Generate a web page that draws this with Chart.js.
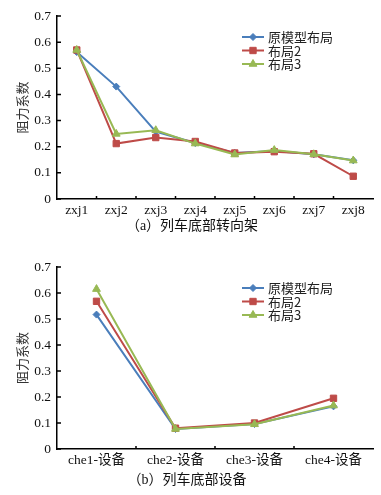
<!DOCTYPE html>
<html>
<head>
<meta charset="utf-8">
<script src="https://cdn.jsdelivr.net/npm/chart.js@4.4.1/dist/chart.umd.min.js"></script>
<style>
    html, body { margin: 0; padding: 0; background: #fff; }
    #wrap { position: relative; width: 381px; height: 495px; }
    .box { position: absolute; left: 0; width: 381px; }
    .caption {
        position: absolute; width: 260px; text-align: center;
        font: 14px "Liberation Serif", "Noto Sans CJK SC", serif; color: #111;
        line-height: 18px; white-space: nowrap;
    }
</style>
</head>
<body>
<div id="wrap">
    <div class="box" style="top:0;height:238px"><canvas id="bogieChart"></canvas></div>
    <div class="caption" style="left:62px;top:217px">（a）列车底部转向架</div>
    <div class="box" style="top:247px;height:245px"><canvas id="deviceChart"></canvas></div>
    <div class="caption" style="left:57px;top:471px">（b）列车底部设备</div>
</div>
<script>
// (a) bogies
const bogieLabels = ['zxj1', 'zxj2', 'zxj3', 'zxj4', 'zxj5', 'zxj6', 'zxj7', 'zxj8'];
const bogieOriginal = [0.562, 0.43, 0.258, 0.214, 0.176, 0.184, 0.171, 0.148];
const bogieLayout2 = [0.570, 0.212, 0.235, 0.220, 0.176, 0.181, 0.173, 0.087];
const bogieLayout3 = [0.570, 0.249, 0.263, 0.212, 0.170, 0.187, 0.171, 0.147];

// (b) underbody equipment
const deviceLabels = ['che1-设备', 'che2-设备', 'che3-设备', 'che4-设备'];
const deviceOriginal = [0.517, 0.077, 0.096, 0.164];
const deviceLayout2 = [0.568, 0.080, 0.100, 0.195];
const deviceLayout3 = [0.615, 0.077, 0.095, 0.167];

const seriesNames = ['原模型布局', '布局2', '布局3'];
const seriesColors = ['#4a7ebb', '#be4b48', '#98b954'];
const yTicks = [0, 0.1, 0.2, 0.3, 0.4, 0.5, 0.6, 0.7];

const latinFont = '"Liberation Serif", "Noto Sans CJK SC", serif';
const cjkFont = '"Noto Sans CJK SC", sans-serif';

// legend drawn inside the plot area, line + marker like the original figure
const insideLegend = {
    id: 'insideLegend',
    afterDatasetsDraw(chart) {
        const { ctx, chartArea } = chart;
        chart.data.datasets.forEach((ds, i) => {
            const y = chartArea.top + 21 + i * 13.5;
            const x0 = 242, x1 = 264;
            ctx.save();
            ctx.strokeStyle = ds.borderColor;
            ctx.lineWidth = 2;
            ctx.beginPath();
            ctx.moveTo(x0, y);
            ctx.lineTo(x1, y);
            ctx.stroke();
            ctx.fillStyle = ds.backgroundColor;
            ctx.lineWidth = 1;
            Chart.helpers.drawPoint(ctx, {
                pointStyle: ds.pointStyle, radius: ds.pointRadius, rotation: 0, borderWidth: 1
            }, (x0 + x1) / 2, y);
            ctx.fillStyle = '#222';
            ctx.font = '13px ' + cjkFont;
            ctx.textBaseline = 'middle';
            ctx.fillText(ds.label, 268, y + 0.5);
            ctx.restore();
        });
    }
};

// small tick marks pointing into the plot
const innerTicks = {
    id: 'innerTicks',
    afterDraw(chart) {
        const { ctx, chartArea } = chart;
        const xs = chart.scales.x, ys = chart.scales.y;
        ctx.save();
        ctx.strokeStyle = '#000';
        ctx.lineWidth = 1.5;
        ctx.beginPath();
        yTicks.forEach(v => {
            const y = ys.getPixelForValue(v);
            ctx.moveTo(chartArea.left, y);
            ctx.lineTo(chartArea.left + 4, y);
        });
        const n = chart.data.labels.length;
        for (let i = 1; i < n; i++) {
            const x = (xs.getPixelForValue(i - 1) + xs.getPixelForValue(i)) / 2;
            ctx.moveTo(x, chartArea.bottom);
            ctx.lineTo(x, chartArea.bottom - 3);
        }
        ctx.stroke();
        ctx.restore();
    }
};

function makeDataset(i, data) {
    const styles = ['rectRot', 'rect', 'triangle'];
    const radii = [3.5, 4.5, 4.5];
    return {
        label: seriesNames[i],
        data: data,
        order: 2 - i,
        borderColor: seriesColors[i],
        backgroundColor: seriesColors[i],
        borderWidth: 2,
        pointStyle: styles[i],
        pointRadius: radii[i],
        pointHoverRadius: radii[i],
        pointBorderWidth: 1,
        tension: 0,
        clip: false
    };
}

function renderChart(canvasId, labels, series, padTop, xHeight) {
    const ctx = document.getElementById(canvasId).getContext('2d');
    new Chart(ctx, {
        type: 'line',
        data: {
            labels: labels,
            datasets: series.map((d, i) => makeDataset(i, d))
        },
        options: {
            responsive: true,
            maintainAspectRatio: false,
            animation: false,
            layout: { padding: { top: padTop, left: 0, right: 8, bottom: 0 } },
            plugins: {
                legend: { display: false },
                tooltip: { enabled: false }
            },
            scales: {
                x: {
                    offset: true,
                    grid: { display: false, drawTicks: false, tickLength: 0 },
                    border: { display: true, color: '#000', width: 1.5 },
                    ticks: {
                        color: '#111',
                        font: { family: latinFont, size: 13.5 },
                        padding: 3,
                        maxRotation: 0,
                        autoSkip: false
                    },
                    afterFit: s => { s.height = xHeight; }
                },
                y: {
                    min: 0,
                    max: 0.7,
                    grid: { display: false, drawTicks: false, tickLength: 0 },
                    border: { display: true, color: '#000', width: 1.5 },
                    afterBuildTicks: s => { s.ticks = yTicks.map(v => ({ value: v })); },
                    ticks: {
                        color: '#111',
                        font: { family: latinFont, size: 13.5 },
                        padding: 6,
                        callback: v => (v === 0 ? '0' : v.toFixed(1))
                    },
                    title: {
                        display: true,
                        text: '阻力系数',
                        color: '#333',
                        font: { family: cjkFont, size: 13 },
                        padding: { top: 14, bottom: 0 }
                    },
                    afterFit: s => { s.width = 57; }
                }
            }
        },
        plugins: [insideLegend, innerTicks]
    });
}

document.addEventListener('DOMContentLoaded', () => {
    renderChart('bogieChart', bogieLabels, [bogieOriginal, bogieLayout2, bogieLayout3], 16, 39);
    renderChart('deviceChart', deviceLabels, [deviceOriginal, deviceLayout2, deviceLayout3], 20, 43);
});
</script>
</body>
</html>
